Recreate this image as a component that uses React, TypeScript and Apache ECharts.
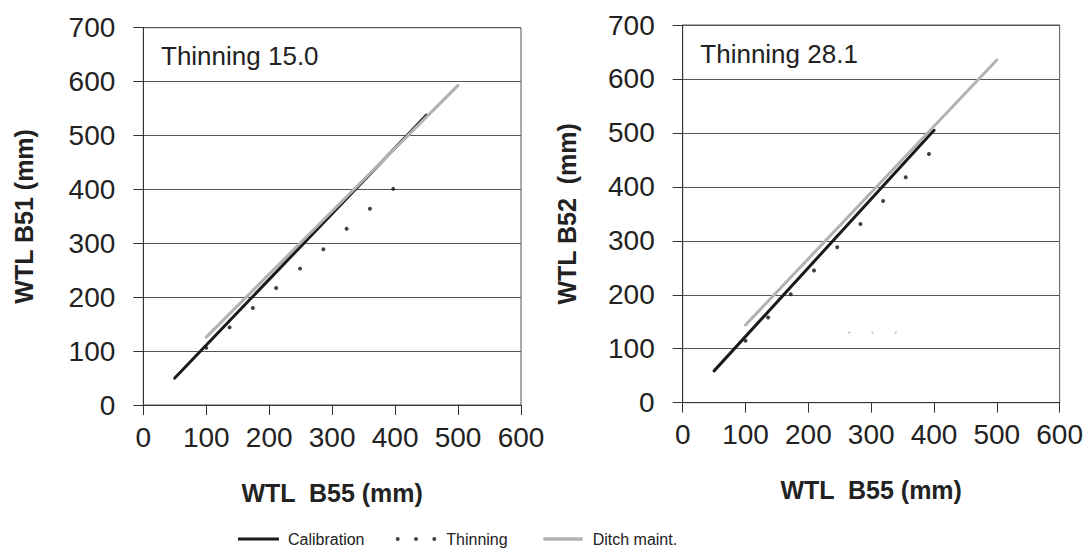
import React, { useEffect, useRef } from "react";
import * as echarts from "echarts";

// ---- data ----
const calibLeft = [[50, 50], [450, 538]];
const ditchLeft = [[100, 126], [500, 593]];
const thinLeft = [
  [100, 106], [137, 144], [174, 180], [211, 217], [249, 253],
  [286, 289], [323, 327], [360, 364], [397, 401],
];
const calibRight = [[50, 59], [400, 505]];
const ditchRight = [[100, 144], [500, 635]];
const thinRight = [
  [100, 115], [136, 158], [172, 201], [209, 245], [246, 288],
  [283, 331], [319, 374], [355, 418], [392, 461],
];
const strayRight = [[265, 130], [302, 130], [339, 130]];

const panelLabels = ["Thinning 15.0", "Thinning 28.1"];
const yNames = ["WTL B51 (mm)", "WTL B52  (mm)"];
const xName = "WTL  B55 (mm)";
const legendNames = ["Calibration", "Thinning", "Ditch maint."];

const FONT = "'Liberation Sans', Arial, Helvetica, sans-serif";
const BLACK = "#1a1a1a";
const GRAY = "#b2b2b2";

function xAxisCfg(gridIndex: number) {
  return {
    type: "value",
    gridIndex,
    min: 0,
    max: 600,
    interval: 100,
    name: xName,
    nameLocation: "middle",
    nameGap: 75,
    nameTextStyle: { fontFamily: FONT, fontSize: 25, fontWeight: "bold", color: "#222" },
    axisLine: { show: true, onZero: false, lineStyle: { color: "#333", width: 1 } },
    axisTick: { show: true, inside: false, length: 10, lineStyle: { color: "#333" } },
    axisLabel: { fontFamily: FONT, fontSize: 28, color: "#222", margin: 18 },
    splitLine: { show: false },
  };
}

function yAxisCfg(gridIndex: number, name: string, gap: number) {
  return {
    type: "value",
    gridIndex,
    min: 0,
    max: 700,
    interval: 100,
    name,
    nameLocation: "middle",
    nameGap: gap,
    nameTextStyle: { fontFamily: FONT, fontSize: 25, fontWeight: "bold", color: "#222" },
    axisLine: { show: true, onZero: false, lineStyle: { color: "#333", width: 1 } },
    axisTick: { show: true, inside: false, length: 10, lineStyle: { color: "#333" } },
    axisLabel: { fontFamily: FONT, fontSize: 28, color: "#222", margin: 28 },
    splitLine: { show: true, lineStyle: { color: "#555", width: 1 } },
  };
}

function lineSeries(name: string, data: number[][], color: string, idx: number, z: number) {
  return {
    type: "line",
    name,
    xAxisIndex: idx,
    yAxisIndex: idx,
    data,
    symbol: "none",
    z,
    itemStyle: { color },
    lineStyle: { color, width: 3, cap: "round" },
  };
}

function dotSeries(name: string, data: number[][], idx: number) {
  return {
    type: "scatter",
    name,
    xAxisIndex: idx,
    yAxisIndex: idx,
    data,
    symbol: "circle",
    symbolSize: 4,
    z: 2,
    itemStyle: { color: "#111" },
  };
}

const dotsIcon =
  "path://M0,2A2,2,0,1,1,4,2A2,2,0,1,1,0,2Z M18.3,2A2,2,0,1,1,22.3,2A2,2,0,1,1,18.3,2Z M36.6,2A2,2,0,1,1,40.6,2A2,2,0,1,1,36.6,2Z";

const legendText = { fontFamily: FONT, fontSize: 16, color: "#222" };

export default function App() {
  const ref = useRef<HTMLDivElement>(null);
  useEffect(() => {
    const chart = echarts.init(ref.current!, null, { renderer: "svg" });
    const option = {
      animation: false,
      backgroundColor: "#fff",
      grid: [
        { left: 143.3, top: 27.7, width: 377.7, height: 377.3, show: true, borderColor: "#555", borderWidth: 1, backgroundColor: "transparent" },
        { left: 682.7, top: 25, width: 377.6, height: 377.7, show: true, borderColor: "#555", borderWidth: 1, backgroundColor: "transparent" },
      ],
      xAxis: [xAxisCfg(0), xAxisCfg(1)],
      yAxis: [yAxisCfg(0, yNames[0], 107), yAxisCfg(1, yNames[1], 103)],
      legend: [
        {
          data: [{ name: legendNames[0], icon: "rect" }],
          left: 238, top: 531, itemWidth: 41, itemHeight: 3, padding: 0,
          itemStyle: { borderWidth: 0 },
          textStyle: { ...legendText, padding: [0, 0, 0, 4] },
        },
        {
          data: [{ name: legendNames[1], icon: dotsIcon }],
          left: 395.7, top: 531, itemWidth: 40.6, itemHeight: 4, padding: 0,
          itemStyle: { borderWidth: 0 },
          textStyle: { ...legendText, padding: [0, 0, 0, 5] },
        },
        {
          data: [{ name: legendNames[2], icon: "rect" }],
          left: 543.3, top: 531, itemWidth: 39.4, itemHeight: 3.5, padding: 0,
          itemStyle: { borderWidth: 0 },
          textStyle: { ...legendText, padding: [0, 0, 0, 5] },
        },
      ],
      graphic: [
        { type: "text", left: 161, top: 43, style: { text: panelLabels[0], fontFamily: FONT, fontSize: 26, fill: "#222" } },
        { type: "text", left: 700.3, top: 40.7, style: { text: panelLabels[1], fontFamily: FONT, fontSize: 26, fill: "#222" } },
      ],
      series: [
        dotSeries(legendNames[1], thinLeft, 0),
        lineSeries(legendNames[0], calibLeft, BLACK, 0, 3),
        lineSeries(legendNames[2], ditchLeft, GRAY, 0, 4),
        dotSeries(legendNames[1], thinRight, 1),
        {
          type: "scatter",
          name: "stray",
          xAxisIndex: 1,
          yAxisIndex: 1,
          data: strayRight,
          symbol: "circle",
          symbolSize: 2,
          z: 1,
          itemStyle: { color: "#aaa" },
        },
        lineSeries(legendNames[0], calibRight, BLACK, 1, 3),
        lineSeries(legendNames[2], ditchRight, GRAY, 1, 4),
      ],
    };
    chart.setOption(option as any);
    return () => chart.dispose();
  }, []);
  return (
    <div
      ref={ref}
      style={{ position: "absolute", left: 0, top: 0, width: 1086, height: 552 }}
    />
  );
}
